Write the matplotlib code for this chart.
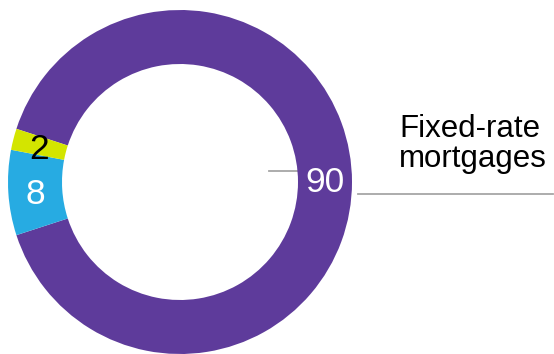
import numpy as np
import matplotlib
matplotlib.use("Agg")
import matplotlib.pyplot as plt

# shares in percent, clockwise from the right-hand side
values = [90, 8, 2]
colors = ['#5E3B9B', '#27ABE2', '#D3E500']
label_colors = ['white', 'white', 'black']
label_valign = ['center', 'center_baseline', 'center_baseline']
label_text = "Fixed-rate\nmortgages"

plt.rcParams['font.family'] = ['Liberation Sans', 'DejaVu Sans']

W, H = 554, 354
fig = plt.figure(figsize=(W/100, H/100), dpi=100)

# overlay in pixel coords for leader lines and the label (drawn under the ring)
bg = fig.add_axes([0, 0, 1, 1], zorder=0)
bg.set_xlim(0, W)
bg.set_ylim(H, 0)
bg.axis('off')

# ring: centre (180,182) px, outer radius 172 px, inner 118 px
cx, cy, R, r_in = 180, 182, 172, 118
ax = fig.add_axes([(cx-R)/W, (H-cy-R)/H, 2*R/W, 2*R/H], zorder=1)
ax.patch.set_alpha(0)
width = 1 - r_in/R
start = values[0]/100*360/2
wedges, _, autotexts = ax.pie(values, colors=colors, startangle=start, counterclock=False,
                              radius=1, autopct='%.0f', pctdistance=1-width/2,
                              wedgeprops=dict(width=width, linewidth=0),
                              textprops=dict(fontsize=25.5))
for t, c, va in zip(autotexts, label_colors, label_valign):
    t.set_color(c)
    t.set_va(va)
ax.set_xlim(-1, 1)
ax.set_ylim(-1, 1)
ax.axis('off')

bg.plot([269, 330], [171, 171], color='#A6A6A6', lw=1.3)
bg.plot([358, 553], [194, 194], color='#A6A6A6', lw=1.3)
bg.text(399, 174.5, label_text, fontsize=22.5, ha='left', va='bottom', linespacing=1.03)

fig.savefig("out.png", dpi=100)
